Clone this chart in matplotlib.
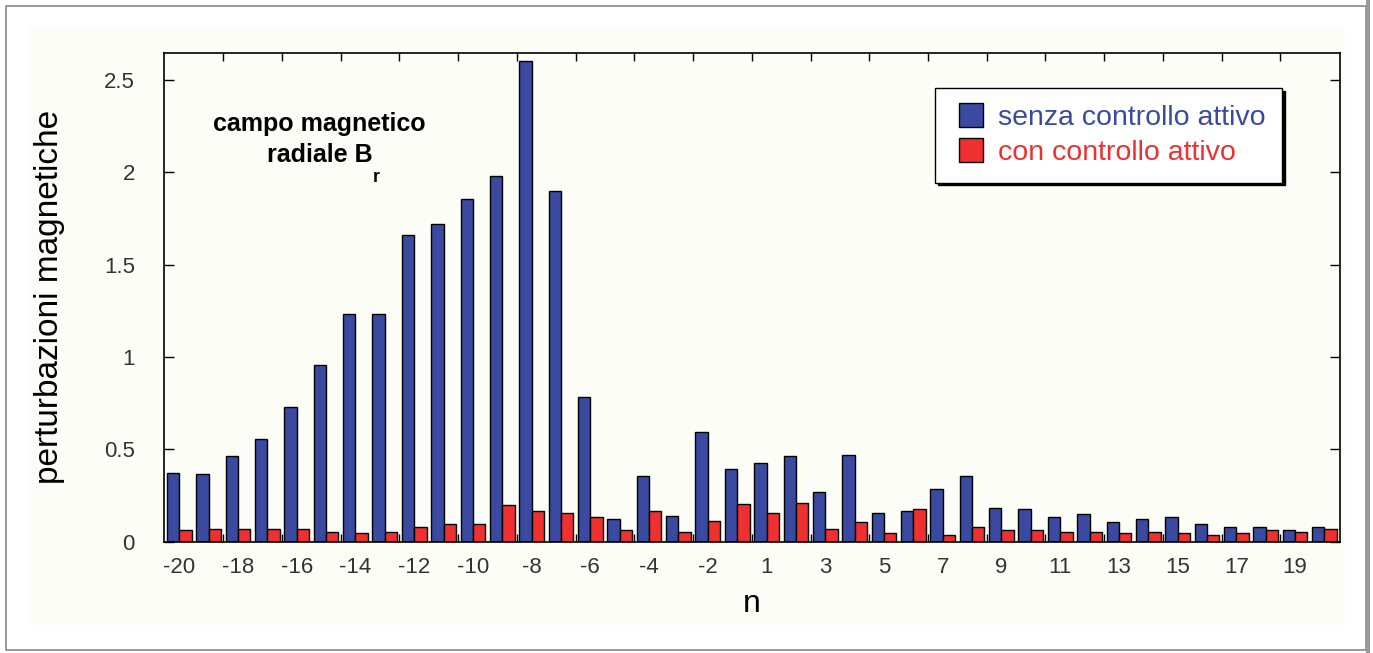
import matplotlib.pyplot as plt
import numpy as np
from matplotlib.patches import Rectangle
from matplotlib.lines import Line2D

plt.rcParams['font.family'] = ['Liberation Sans', 'DejaVu Sans']

# modi n (lo 0 non c'e')
n = list(range(-20, 0)) + list(range(1, 21))

senza = [0.373, 0.366, 0.461, 0.557, 0.729, 0.956, 1.232, 1.232, 1.659, 1.720,
         1.857, 1.978, 2.605, 1.900, 0.783, 0.122, 0.357, 0.140, 0.593, 0.393,
         0.425, 0.461, 0.270, 0.468, 0.156, 0.165, 0.286, 0.357, 0.183, 0.174,
         0.131, 0.147, 0.106, 0.122, 0.131, 0.095, 0.079, 0.079, 0.062, 0.079]
con = [0.062, 0.069, 0.069, 0.069, 0.069, 0.053, 0.044, 0.053, 0.079, 0.096,
       0.096, 0.199, 0.165, 0.156, 0.131, 0.061, 0.165, 0.051, 0.113, 0.201,
       0.156, 0.208, 0.069, 0.104, 0.044, 0.174, 0.035, 0.079, 0.062, 0.062,
       0.053, 0.053, 0.044, 0.051, 0.044, 0.035, 0.044, 0.062, 0.051, 0.069]

yticks = [0, 0.5, 1, 1.5, 2, 2.5]
ytick_labels = ["0", "0.5", "1", "1.5", "2", "2.5"]

blu = "#3a4aa0"
rosso = "#ee3030"
sfondo = "#fdfdf7"

fig = plt.figure(figsize=(13.73, 6.53), dpi=100)
fig.patch.set_facecolor("white")

# cornice della pagina
fig.patches.append(Rectangle((6/1373, 3/653), 1360/1373, 644/653, transform=fig.transFigure,
                             facecolor="white", edgecolor="#888888", lw=1.2, zorder=-3))
fig.patches.append(Rectangle((28/1373, 28/653), 1317/1373, 598/653, transform=fig.transFigure,
                             facecolor=sfondo, edgecolor="none", zorder=-2))
fig.patches.append(Rectangle((1366/1373, 0), 4/1373, 1, transform=fig.transFigure,
                             facecolor="#999999", edgecolor="none", zorder=-2))

ax = fig.add_axes([164/1373, (653-541.5)/653, (1340-164)/1373, (541.5-53)/653])
ax.set_facecolor(sfondo)

x = np.arange(len(n))
w = 0.42
ax.bar(x - w/2, senza, w, color=blu, edgecolor="black", lw=1)
ax.bar(x + w/2, con, w, color=rosso, edgecolor="black", lw=1)

ax.set_xlim(-0.52, 39.53)
ax.set_ylim(0, 2.646)

ax.set_yticks(yticks)
ax.set_yticklabels(ytick_labels)
ax.tick_params(axis="y", direction="in", length=7, width=1, right=True, labelsize=16,
               labelcolor="#333333", pad=21)

ax.set_xticks(x[::2])
ax.set_xticklabels([str(v) for v in n[::2]])
ax.tick_params(axis="x", which="major", length=0, labelsize=16, labelcolor="#333333", pad=11)
ax.set_xticks(np.arange(2, 40, 2) - 0.5, minor=True)
ax.tick_params(axis="x", which="minor", direction="in", length=6, width=1, top=True, bottom=True)

for s in ax.spines.values():
    s.set_linewidth(1.2)

ax.set_xlabel("n", fontsize=23, labelpad=8)
ax.set_ylabel("perturbazioni magnetiche", fontsize=24, labelpad=28)

fig.text(319/1373, 1-124/653, "campo magnetico", ha="center", va="center",
         fontsize=18, fontweight="bold")
fig.text(320/1373, 1-155/653, "radiale B", ha="center", va="center",
         fontsize=18, fontweight="bold")
fig.text(376/1373, 1-177/653, "r", ha="center", va="center",
         fontsize=13, fontweight="bold")

handles = [Line2D([], [], ls="none", marker="s", markersize=17, markerfacecolor=blu,
                  markeredgecolor="black"),
           Line2D([], [], ls="none", marker="s", markersize=17, markerfacecolor=rosso,
                  markeredgecolor="black")]
leg = ax.legend(handles, ["senza controllo attivo", "con controllo attivo"],
                loc="upper left", bbox_to_anchor=(935/1373, 1-88/653),
                bbox_transform=fig.transFigure, fontsize=20.5, labelcolor=[blu, rosso],
                fancybox=False, shadow={"color": "black", "alpha": 1},
                framealpha=1, edgecolor="black", handletextpad=0.3,
                labelspacing=0.3, borderpad=0.6, handlelength=1.3, borderaxespad=0)
leg.get_frame().set_linewidth(1)

plt.savefig("out.png", dpi=100)
